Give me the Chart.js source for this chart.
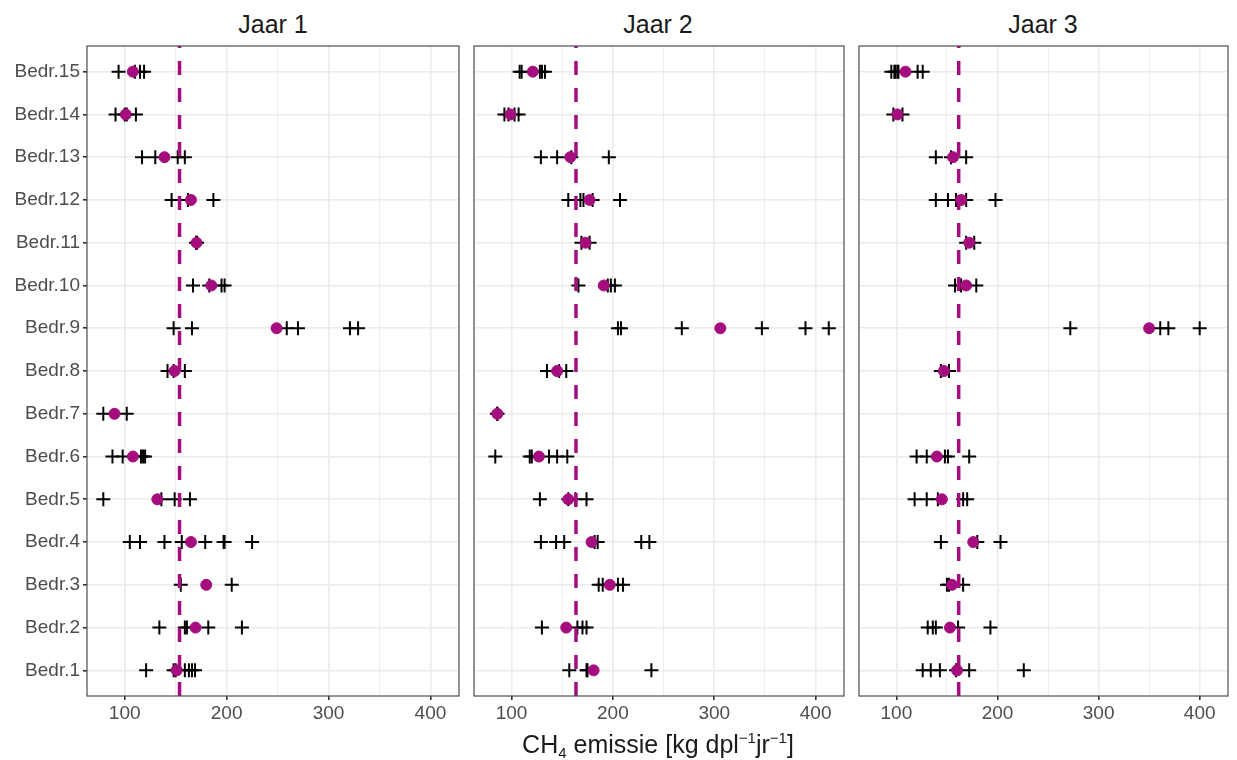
<!DOCTYPE html>
<html>
<head>
<meta charset="utf-8">
<script src="https://cdn.jsdelivr.net/npm/chart.js@4.4.1/dist/chart.umd.min.js"></script>
<style>
  body { margin: 0; background: #fff; width: 1237px; height: 760px; position: relative; overflow: hidden; font-family: "Liberation Sans", Arial, sans-serif; }
  .panel { position: absolute; top: 0; height: 740px; }
  .titel { position: absolute; top: 10px; font-size: 25px; line-height: 28px; color: #1a1a1a; text-align: center; width: 372px; }
  #xtitel { position: absolute; top: 730px; left: 0; width: 1316px; text-align: center; font-size: 25px; line-height: 28px; color: #1a1a1a; }
  #xtitel sub { font-size: 15px; vertical-align: -5px; line-height: 0; }
  #xtitel sup { font-size: 15px; vertical-align: 10px; line-height: 0; }
</style>
</head>
<body>
<div class="titel" style="left:87px">Jaar 1</div>
<div class="titel" style="left:472px">Jaar 2</div>
<div class="titel" style="left:857px">Jaar 3</div>
<div class="panel" style="left:0;width:468px"><canvas id="jaar1"></canvas></div>
<div class="panel" style="left:465px;width:388px"><canvas id="jaar2"></canvas></div>
<div class="panel" style="left:850px;width:387px"><canvas id="jaar3"></canvas></div>
<div id="xtitel">CH<sub>4</sub> emissie [kg dpl<sup>−1</sup>jr<sup>−1</sup>]</div>
<script>
// bedrijven van onder (1) naar boven (15)
var bedrijven = ['Bedr.1', 'Bedr.2', 'Bedr.3', 'Bedr.4', 'Bedr.5', 'Bedr.6', 'Bedr.7', 'Bedr.8',
                 'Bedr.9', 'Bedr.10', 'Bedr.11', 'Bedr.12', 'Bedr.13', 'Bedr.14', 'Bedr.15'];
var xTicks = [100, 200, 300, 400];

// losse metingen per bedrijf
var metingenJaar1 = [
    [121, 148, 150, 159, 163, 166, 169],
    [134, 159, 161, 182, 215],
    [155, 205],
    [105, 115, 139, 156, 179, 197, 198, 225],
    [79, 136, 149, 164],
    [88, 98, 116, 118, 120],
    [79, 102],
    [142, 148, 159],
    [148, 166, 259, 270, 321, 329],
    [167, 183, 195, 198],
    [170, 171],
    [146, 162, 187],
    [117, 130, 152, 159],
    [91, 100, 102, 111],
    [94, 110, 115, 119]
];
var metingenJaar2 = [
    [157, 174, 175, 238],
    [130, 165, 170, 174],
    [186, 190, 205, 210],
    [129, 144, 152, 182, 185, 228, 236],
    [128, 156, 163, 174],
    [84, 118, 120, 137, 145, 155],
    [86, 86],
    [135, 147, 154],
    [205, 208, 268, 347, 390, 413],
    [166, 195, 198, 202],
    [169, 177],
    [156, 168, 171, 180, 207],
    [129, 145, 159, 196],
    [93, 97, 103, 107],
    [108, 110, 128, 130, 133]
];
var metingenJaar3 = [
    [126, 134, 143, 159, 172, 226],
    [131, 136, 139, 161, 193],
    [150, 152, 166],
    [144, 180, 203],
    [118, 130, 141, 166, 170],
    [120, 130, 148, 151, 172],
    [],
    [144, 152],
    [272, 361, 369, 400],
    [158, 164, 179],
    [169, 177],
    [139, 151, 159, 169, 198],
    [139, 154, 169],
    [97, 106],
    [95, 98, 99, 101, 102, 121, 126]
];

// gemiddelde per bedrijf
var gemJaar1 = [151, 169.5, 180, 165, 132, 108, 90, 149, 249, 185, 170.5, 165, 139, 101, 108];
var gemJaar2 = [181, 154, 197, 179, 156, 127, 86, 145, 306, 191, 173, 177, 158, 99, 121];
var gemJaar3 = [160, 153, 155, 176, 145, 140, null, 147, 350, 169, 172, 164, 156, 101, 109];

// gemiddelde over alle bedrijven
var gemAlles = [153.8, 163.6, 161.6];

var magenta = '#a50d7e';

var randPlugin = {
    id: 'rand',
    afterDraw: function (chart) {
        var a = chart.chartArea, ctx = chart.ctx;
        ctx.save();
        ctx.strokeStyle = '#4d4d4d';
        ctx.lineWidth = 1.2;
        ctx.strokeRect(a.left, a.top, a.right - a.left, a.bottom - a.top);
        ctx.restore();
    }
};

function maakPanel(id, metingen, gem, totaal, metLabels, links, rechts) {
    var punten = [];
    metingen.forEach(function (rij, i) {
        rij.forEach(function (v) { punten.push({ x: v, y: i + 1 }); });
    });
    var gemPunten = [];
    gem.forEach(function (v, i) {
        if (v !== null) gemPunten.push({ x: v, y: i + 1 });
    });

    var ctx = document.getElementById(id).getContext('2d');
    return new Chart(ctx, {
        type: 'scatter',
        data: {
            datasets: [{
                type: 'line',
                data: [{ x: totaal, y: 0.4 }, { x: totaal, y: 15.6 }],
                borderColor: magenta,
                borderWidth: 3.5,
                borderDash: [14, 13],
                pointRadius: 0,
                order: 0
            }, {
                data: gemPunten,
                backgroundColor: magenta,
                borderColor: magenta,
                pointRadius: 5.5,
                order: 1
            }, {
                data: punten,
                pointStyle: 'cross',
                pointRadius: 7,
                borderColor: '#000',
                borderWidth: 2,
                order: 2
            }]
        },
        options: {
            responsive: true,
            maintainAspectRatio: false,
            animation: false,
            events: [],
            layout: { padding: { top: 46, right: rechts, bottom: 0, left: 0 } },
            plugins: { legend: { display: false }, tooltip: { enabled: false } },
            scales: {
                x: {
                    type: 'linear',
                    min: 63,
                    max: 428,
                    afterBuildTicks: function (axis) {
                        axis.ticks = [150, 250, 350].concat(xTicks).map(function (v) { return { value: v }; });
                    },
                    afterFit: function (axis) {
                        axis.height = 44;
                        axis.paddingLeft = 0;
                        axis.paddingRight = 0;
                    },
                    grid: {
                        color: '#ebebeb',
                        lineWidth: function (c) { return c.tick && c.tick.value % 100 === 0 ? 1.6 : 0.8; },
                        tickColor: function (c) { return c.tick && c.tick.value % 100 === 0 ? '#333' : 'rgba(0,0,0,0)'; },
                        tickLength: 4,
                        drawTicks: true
                    },
                    border: { display: false },
                    ticks: {
                        color: '#4d4d4d',
                        font: { family: 'Liberation Sans', size: 19 },
                        padding: 2,
                        maxRotation: 0,
                        autoSkip: false,
                        callback: function (v) { return v % 100 === 0 ? String(v) : ''; }
                    }
                },
                y: {
                    type: 'linear',
                    min: 0.4,
                    max: 15.6,
                    afterBuildTicks: function (axis) {
                        axis.ticks = bedrijven.map(function (b, i) { return { value: i + 1 }; });
                    },
                    afterFit: function (axis) { axis.width = links; },
                    grid: {
                        color: '#ebebeb',
                        lineWidth: 1.6,
                        tickColor: metLabels ? '#333' : 'rgba(0,0,0,0)',
                        tickLength: 4,
                        drawTicks: metLabels
                    },
                    border: { display: false },
                    ticks: {
                        display: metLabels,
                        color: '#4d4d4d',
                        font: { family: 'Liberation Sans', size: 19 },
                        padding: 3,
                        autoSkip: false,
                        callback: function (v) { return bedrijven[Math.round(v) - 1]; }
                    }
                }
            }
        },
        plugins: [randPlugin]
    });
}

document.addEventListener('DOMContentLoaded', function () {
    maakPanel('jaar1', metingenJaar1, gemJaar1, gemAlles[0], true, 87, 3);
    maakPanel('jaar2', metingenJaar2, gemJaar2, gemAlles[1], false, 7, 3);
    maakPanel('jaar3', metingenJaar3, gemJaar3, gemAlles[2], false, 7, 7);
});
</script>
</body>
</html>
